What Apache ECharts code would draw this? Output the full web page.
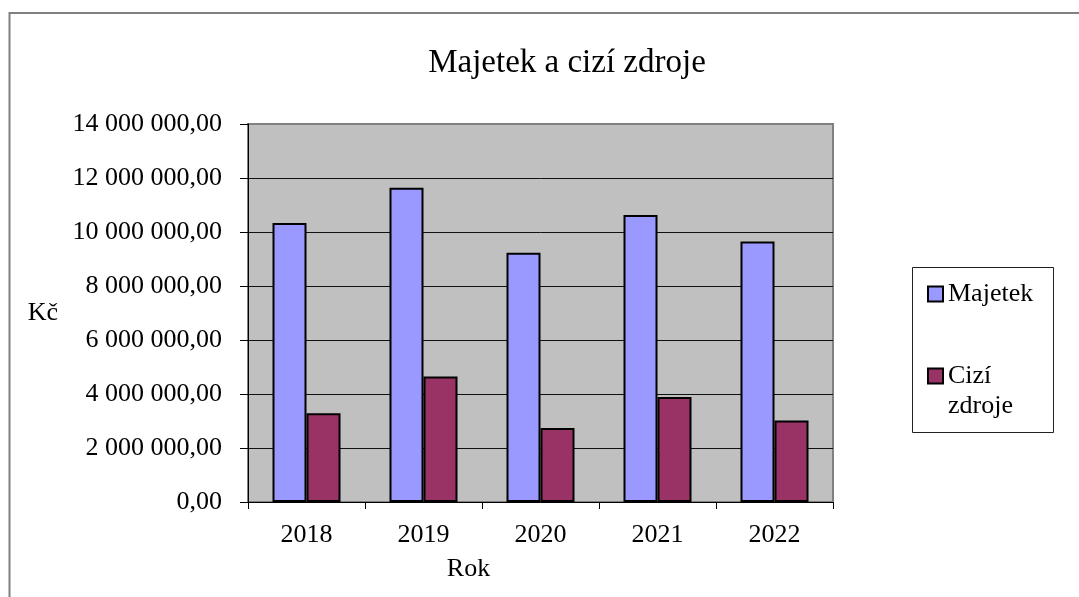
<!DOCTYPE html>
<html>
<head>
<meta charset="utf-8">
<script src="https://cdn.jsdelivr.net/npm/echarts@6/dist/echarts.min.js"></script>
<style>
  html, body { margin: 0; padding: 0; background: #fff; }
  #chart { width: 1079px; height: 597px; }
</style>
</head>
<body>
<div id="chart"></div>
<script>
// data
const years = ['2018', '2019', '2020', '2021', '2022'];
const majetek = [10330000, 11640000, 9230000, 10630000, 9650000];
const ciziZdroje = [3290000, 4650000, 2740000, 3890000, 3020000];

const FONT = '"Liberation Serif", "DejaVu Serif", serif';

function formatKc(v) {
  const parts = Number(v).toFixed(2).split('.');
  const whole = parts[0].replace(/\B(?=(\d{3})+(?!\d))/g, ' ');
  return whole + ',' + parts[1];
}

const chart = echarts.init(document.getElementById('chart'), null, { renderer: 'canvas' });

chart.setOption({
  backgroundColor: '#fff',
  animation: false,
  title: {
    text: 'Majetek a cizí zdroje',
    left: 562,
    top: 42,
    textAlign: 'center',
    textStyle: { fontFamily: FONT, fontSize: 33, fontWeight: 'normal', color: '#000' }
  },
  graphic: [
    {
      type: 'rect',
      shape: { x: 9.5, y: 13, width: 1200, height: 700 },
      style: { fill: 'none', stroke: '#808080', lineWidth: 2 },
      silent: true
    },
    {
      type: 'rect',
      shape: { x: 912.5, y: 267.5, width: 141, height: 165 },
      style: { fill: 'none', stroke: '#222', lineWidth: 1 },
      silent: true
    }
  ],
  legend: {
    orient: 'vertical',
    left: 912,
    top: 267,
    padding: [12, 10, 10, 15],
    itemGap: 22,
    itemWidth: 15,
    itemHeight: 15,
    icon: 'rect',
    formatter: function (name) {
      return name === 'Cizí zdroje' ? '\nCizí\nzdroje' : name;
    },
    textStyle: { fontFamily: FONT, fontSize: 26, color: '#000', lineHeight: 30 },
    data: ['Majetek', 'Cizí zdroje']
  },
  grid: {
    left: 248,
    top: 124,
    width: 585,
    height: 378,
    show: true,
    backgroundColor: '#C0C0C0',
    borderColor: '#808080',
    borderWidth: 2
  },
  xAxis: {
    type: 'category',
    data: years,
    name: 'Rok',
    nameLocation: 'middle',
    nameGap: 54,
    nameTextStyle: { fontFamily: FONT, fontSize: 26, color: '#000', padding: [0, 144, 0, 0] },
    axisLine: { lineStyle: { color: '#000', width: 1 } },
    axisTick: { show: true, length: 7, lineStyle: { color: '#000' } },
    axisLabel: { fontFamily: FONT, fontSize: 26, color: '#000', margin: 20 }
  },
  yAxis: {
    type: 'value',
    min: 0,
    max: 14000000,
    interval: 2000000,
    name: 'Kč',
    nameLocation: 'middle',
    nameRotate: 0,
    nameGap: 190,
    nameTextStyle: { fontFamily: FONT, fontSize: 26, color: '#000', padding: [0, 0, 20, 0] },
    axisLine: { show: true, lineStyle: { color: '#000', width: 1 } },
    axisTick: { show: true, length: 8, lineStyle: { color: '#000' } },
    axisLabel: { fontFamily: FONT, fontSize: 26, color: '#000', margin: 26, formatter: formatKc },
    splitLine: { show: true, showMinLine: false, showMaxLine: false, lineStyle: { color: '#111', width: 1 } }
  },
  series: [
    {
      name: 'Majetek',
      type: 'bar',
      data: majetek,
      barWidth: 34,
      barGap: '0%',
      itemStyle: { color: '#9999FF', borderColor: '#000', borderWidth: 2 }
    },
    {
      name: 'Cizí zdroje',
      type: 'bar',
      data: ciziZdroje,
      barWidth: 34,
      itemStyle: { color: '#993366', borderColor: '#000', borderWidth: 2 }
    }
  ]
});
</script>
</body>
</html>
